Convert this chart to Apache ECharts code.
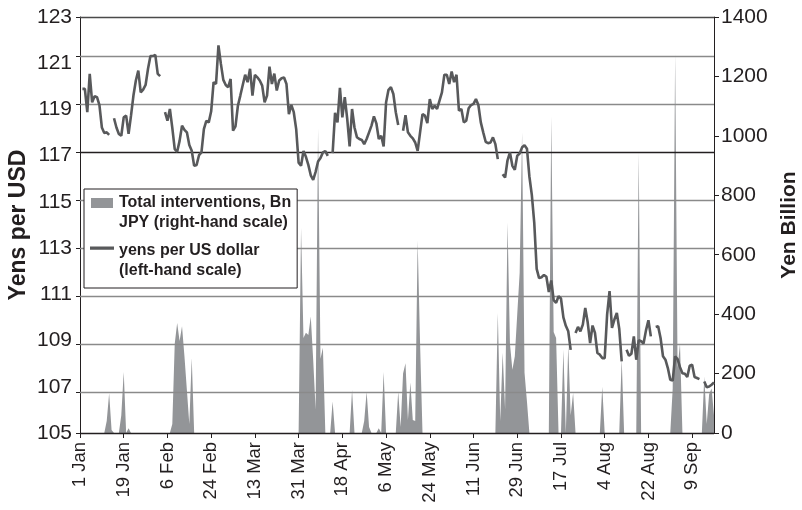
<!DOCTYPE html>
<html>
<head>
<meta charset="utf-8">
<script src="https://cdn.jsdelivr.net/npm/echarts@6/dist/echarts.min.js"></script>
<style>
  html, body { margin: 0; padding: 0; background: #fff; }
  #chart { width: 802px; height: 510px; }
</style>
</head>
<body>
<div id="chart"></div>
<script>
// Trading-day axis: one label every 18 days.
const tickLabels = ['1 Jan', '19 Jan', '6 Feb', '24 Feb', '13 Mar', '31 Mar', '18 Apr', '6 May',
  '24 May', '11 Jun', '29 Jun', '17 Jul', '4 Aug', '22 Aug', '9 Sep'];
const labelStep = 18;

// Yen per US dollar, one value per trading day (null = no quote).
const yenPerUsd = [
  null, 119.89, 119.89, 118.88, 120.54, 119.31, 119.57, 119.53, 119.19, 118.22,
  117.98, 118.01, 117.9, null, 118.62, 118.22, 117.94, 117.86, 118.66, 118.73,
  117.94, 118.73, 119.6, 120.25, 120.68, 119.74, 119.86, 120.06, 120.76, 121.31,
  121.31, 121.36, 120.54, 120.44, null, 118.88, 118.51, 119.02, 118.2, 117.28,
  117.17, 117.64, 118.3, 118.12, 118.01, 117.46, 117.21, 116.56, 116.6, 117.02,
  117.14, 118.15, 118.51, 118.44, 118.92, 120.18, 120.1, 121.77, 120.97, 120.28,
  120.06, 119.96, 120.32, 118.08, 118.27, 119.16, 119.6, 120.06, 120.5, 120.18,
  120.76, 119.6, 120.5, 120.39, 120.25, 120.03, 119.31, 119.6, 120.85, 120.1,
  120.55, 119.82, 120.25, 120.35, 120.38, 120.1, 118.8, 119.2, 118.88, 118.15,
  116.7, 116.56, 117.2, 116.95, 116.6, 116.15, 115.95, 116.3, 116.75, 116.9,
  117.14, 117.2, 116.99, null, 117.11, 118.85, 118.44, 119.93, 118.66, 119.53,
  118.6, 117.4, 119.02, 118.22, 117.8, 117.72, 117.68, 117.5, 117.72, 118.01,
  118.3, 118.7, 118.4, 117.72, 117.86, 117.4, 119.3, 119.85, 119.96, 119.67,
  118.88, 118.33, null, 118.08, 118.75, 118.01, 117.86, 117.75, 117.57, 117.21,
  118.01, 118.8, 118.73, 118.41, 119.45, 119.02, 119.16, 119.02, 119.38, 119.74,
  120.5, 120.5, 120.1, 120.64, 120.18, 120.5, 118.95, 119.02, 118.44, 118.51,
  119.05, 119.19, 119.24, 119.45, 119.19, 118.44, 118.01, 117.6, 117.54, 117.57,
  117.79, 117.5, 116.85, null, 116.2, 116.05, 116.8, 117.14, 116.56, 116.39,
  117.0, 117.09, 117.36, 117.45, 117.3, 116.1, 115.3, 114.1, 112.1, 111.7,
  111.74, 111.84, 111.76, 111.1, 111.6, 110.75, 110.63, 110.92, 110.82, 110.0,
  109.64, 109.4, 108.6, null, 109.33, 109.59, 109.4, 109.69, 110.41, 109.79,
  108.89, 109.65, 109.33, 108.46, 108.39, 108.24, 108.24, 110.12, 111.14, 109.55,
  109.91, 110.2, 109.5, 108.1, null, 108.6, 108.34, 108.43, 109.18, 108.17,
  109.01, 108.97, 108.87, 109.44, 109.88, 109.18, null, 109.59, 109.62, 109.11,
  108.32, 108.17, 107.81, 107.3, 107.27, 108.32, 108.2, 107.85, 107.59, 107.56,
  107.42, 107.91, 107.95, 107.42, 107.38, 107.33, null, 107.23, 106.98, 107.01,
  107.09, 107.19
];

// Intervention days (trading-day index) and amounts, Bn JPY.
const interventionDay = [
  11, 12, 13, 17, 18, 20,
  38, 39, 40, 41, 42, 43, 44, 45, 46,
  91, 92, 93, 94, 95, 96, 97, 98, 99, 100,
  104, 112, 117, 118, 119, 123, 125,
  131, 132, 133, 134, 135, 136, 137, 138, 139, 140,
  172, 173, 174, 175, 176, 177, 178, 179, 180, 181, 182, 183, 184,
  194, 195, 196, 199, 201, 202, 203,
  215, 223, 230, 244, 245, 246, 247,
  257, 258, 259, 260, 261
];
const interventionBn = [
  40, 134, 10, 60, 205, 16,
  30, 300, 370, 310, 359, 258, 145, 30, 252,
  691, 320, 337, 330, 392, 246, 78, 1025, 250, 287,
  106, 145, 40, 139, 20, 16, 205,
  140, 20, 200, 235, 44, 170, 44, 40, 648, 300,
  404, 40, 270, 80, 708, 300, 213, 258, 400, 539, 1012, 203, 106,
  1065, 340, 320, 280, 295, 60, 135,
  156, 250, 944, 150, 1276, 220, 300,
  190, 30, 130, 150, 60
];

const seriesNames = {
  fx: 'yens per US dollar (left-hand scale)',
  iv: 'Total interventions, Bn JPY (right-hand scale)'
};
const legendText = {};
legendText[seriesNames.iv] = 'Total interventions, Bn\nJPY (right-hand scale)';
legendText[seriesNames.fx] = 'yens per US dollar\n(left-hand scale)';

const days = yenPerUsd.map((_, i) => String(i));
const interventions = yenPerUsd.map(() => 0);
interventionDay.forEach((d, k) => { interventions[d] = interventionBn[k]; });

// Horizontal rules come from a hidden value axis: its even ticks are the rules.
// That label-free axis also carries the left-hand title.
const RULE_MIN = 0.292;
const RULE_MAX = 17.625;

const FONT = "'Liberation Sans', Arial, Helvetica, sans-serif";
const INK = '#231f20';
const LINE_GREY = '#58595b';
const AREA_GREY = '#939598';
const RULE_GREY = '#8a8a8a';

// Legend icons: drawing sits in the top of a 22x30 box so it lines up with the first text line.
const rectIcon = 'path://M0,0L22,0L22,10L0,10Z M0,29.9L0.01,29.9L0.01,30L0,30Z';
const lineIcon = 'path://M0,3.6L22,3.6L22,6.4L0,6.4Z M0,29.9L0.01,29.9L0.01,30L0,30Z';

const chart = echarts.init(document.getElementById('chart'), null, { renderer: 'canvas' });

chart.setOption({
  animation: false,
  backgroundColor: '#fff',
  textStyle: { fontFamily: FONT, color: INK },
  grid: { left: 80, right: 88, top: 17, bottom: 77, containLabel: false, outerBoundsMode: 'none' },
  legend: {
    left: 84,
    top: 189,
    orient: 'vertical',
    z: 10,
    backgroundColor: '#fff',
    borderColor: INK,
    borderWidth: 1,
    padding: [4, 6, 7, 6],
    itemGap: 8,
    itemWidth: 24,
    itemHeight: 30,
    itemStyle: { borderWidth: 0 },
    selectedMode: false,
    data: [
      { name: seriesNames.iv, icon: rectIcon },
      { name: seriesNames.fx, icon: lineIcon }
    ],
    formatter: name => legendText[name],
    textStyle: { fontFamily: FONT, fontSize: 16, fontWeight: 'bold', color: INK, lineHeight: 20 }
  },
  xAxis: {
    type: 'category',
    data: days,
    boundaryGap: false,
    axisLine: { lineStyle: { color: INK, width: 1 } },
    axisTick: { show: true, interval: labelStep - 1, length: 5, lineStyle: { color: INK } },
    axisLabel: {
      interval: labelStep - 1,
      rotate: 90,
      margin: 9,
      fontSize: 18.5,
      fontFamily: FONT,
      color: INK,
      formatter: (v, idx) => (idx % labelStep === 0 ? tickLabels[idx / labelStep] : '')
    },
    splitLine: { show: false }
  },
  yAxis: [
    {
      type: 'value',
      min: 105,
      max: 123,
      interval: 2,
      position: 'left',
      axisLine: { show: true, lineStyle: { color: INK, width: 1 } },
      axisTick: { show: false },
      axisLabel: { fontSize: 21, fontFamily: FONT, color: INK, margin: 8 },
      splitLine: { show: false }
    },
    {
      type: 'value',
      min: 0,
      max: 1400,
      interval: 200,
      position: 'right',
      name: 'Yen Billion',
      nameLocation: 'middle',
      nameRotate: 90,
      nameGap: 64,
      nameTextStyle: { fontFamily: FONT, fontSize: 21, fontWeight: 'bold', color: INK },
      axisLine: { show: true, lineStyle: { color: INK, width: 1 } },
      axisTick: { show: true, length: 5, lineStyle: { color: INK } },
      axisLabel: {
        fontSize: 21, fontFamily: FONT, color: INK, margin: 7,
        formatter: v => String(v)
      },
      splitLine: { show: false }
    },
    {
      type: 'value',
      min: RULE_MIN,
      max: RULE_MAX,
      splitNumber: 8,
      position: 'left',
      z: 3,
      name: 'Yens per USD',
      nameLocation: 'middle',
      nameRotate: 90,
      nameGap: 50,
      nameTextStyle: { fontFamily: FONT, fontSize: 23, fontWeight: 'bold', color: INK },
      axisLine: { show: false },
      axisLabel: { show: false },
      axisTick: { show: true, length: 4, lineStyle: { color: INK } },
      splitLine: {
        show: true,
        lineStyle: {
          width: 1.4,
          color: [INK, RULE_GREY, RULE_GREY, RULE_GREY, RULE_GREY, RULE_GREY, INK, RULE_GREY, RULE_GREY, '#4a4a4a']
        }
      }
    }
  ],
  series: [
    {
      name: seriesNames.iv,
      type: 'line',
      yAxisIndex: 1,
      data: interventions,
      symbol: 'none',
      color: AREA_GREY,
      lineStyle: { width: 0 },
      areaStyle: { color: AREA_GREY, opacity: 1 },
      z: 2
    },
    {
      name: seriesNames.fx,
      type: 'line',
      yAxisIndex: 0,
      data: yenPerUsd,
      symbol: 'none',
      connectNulls: false,
      color: LINE_GREY,
      lineStyle: { width: 2.6, color: LINE_GREY },
      z: 5
    }
  ]
});
</script>
</body>
</html>
